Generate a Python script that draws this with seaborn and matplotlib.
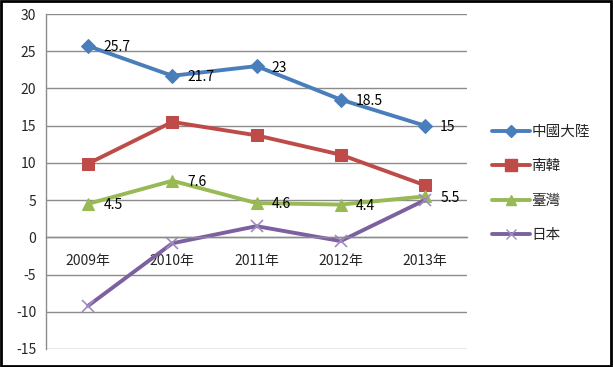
import matplotlib
matplotlib.use("Agg")
import matplotlib.pyplot as plt
import matplotlib.patches as mpatches
import seaborn as sns
import pandas as pd
from matplotlib.ticker import FixedLocator, NullFormatter, FixedFormatter

years = ["2009年", "2010年", "2011年", "2012年", "2013年"]
series_names = ["中國大陸", "南韓", "臺灣", "日本"]
china = [25.7, 21.7, 23, 18.5, 15]
korea = [9.9, 15.5, 13.7, 11.1, 7.0]
taiwan = [4.5, 7.6, 4.6, 4.4, 5.5]
japan = [-9.2, -0.8, 1.5, -0.5, 5.0]
labeled = ["中國大陸", "臺灣"]
yticks = [-15, -10, -5, 0, 5, 10, 15, 20, 25, 30]

colors = ["#4A7EBB", "#BE4B48", "#98B954", "#7D60A0"]
markers = ["D", "s", "^", "x"]
msizes = [7, 9, 8, 8]

sns.set_style("white")
plt.rcParams["font.family"] = ["Noto Sans CJK TC", "DejaVu Sans"]

rows = []
for name, vals in zip(series_names, [china, korea, taiwan, japan]):
    for i, v in enumerate(vals):
        rows.append({"year": i, "value": v, "series": name})
df = pd.DataFrame(rows)

fig = plt.figure(figsize=(6.13, 3.67), dpi=100)
ax = fig.add_axes([46 / 613, 1 - 349 / 367, (467 - 46) / 613, (349 - 14) / 367])

sns.lineplot(data=df, x="year", y="value", hue="series", hue_order=series_names,
             palette=colors, ax=ax, legend=False, linewidth=2.8, sort=False)
for line, m, ms, c in zip(ax.lines, markers, msizes, colors):
    line.set_marker(m)
    line.set_markersize(ms)
    line.set_markerfacecolor(c)
    line.set_markeredgecolor(c)
    if m == "x":
        line.set_markeredgewidth(1.2)
        line.set_markeredgecolor("#A08CC0")

ax.set_xlim(-0.5, 4.5)
ax.set_ylim(-15, 30)
ax.set_yticks(yticks)
ax.set_yticklabels([str(t) for t in yticks], fontsize=10)
ax.yaxis.grid(True, color="#8C8C8C", linewidth=1)
ax.set_axisbelow(True)

ax.xaxis.set_major_locator(FixedLocator([-0.5, 0.5, 1.5, 2.5, 3.5, 4.5]))
ax.xaxis.set_major_formatter(NullFormatter())
ax.xaxis.set_minor_locator(FixedLocator(list(range(len(years)))))
ax.xaxis.set_minor_formatter(FixedFormatter(years))
ax.tick_params(axis="x", which="major", length=4, width=1, color="#8C8C8C", direction="out")
ax.tick_params(axis="x", which="minor", length=0, pad=12, labelsize=10)
ax.tick_params(axis="y", length=4, width=1, color="#8C8C8C", direction="out", pad=3)
ax.set_xlabel("")
ax.set_ylabel("")

for s in ["top", "right"]:
    ax.spines[s].set_visible(False)
ax.spines["bottom"].set_position(("data", 0))
ax.spines["bottom"].set_color("#8C8C8C")
ax.spines["left"].set_color("#8C8C8C")
ax.spines["bottom"].set_linewidth(1)
ax.spines["left"].set_linewidth(1)

for name, vals in zip(series_names, [china, korea, taiwan, japan]):
    if name in labeled:
        for i, v in enumerate(vals):
            ax.annotate(f"{v:g}", (i, v), xytext=(11, -1), textcoords="offset points",
                        va="center", ha="left", fontsize=10, color="black")

handles = []
for name, c, m, ms in zip(series_names, colors, markers, msizes):
    h = plt.Line2D([], [], color=c, lw=2.8, marker=m, markersize=ms * 0.9,
                   markerfacecolor=c, markeredgecolor=("#A08CC0" if m == "x" else c),
                   label=name)
    handles.append(h)
fig.legend(handles=handles, loc="upper left", bbox_to_anchor=(486 / 613, 1 - 119 / 367),
           frameon=False, fontsize=10.5, handlelength=2.6, handletextpad=0.1,
           labelspacing=1.4, borderaxespad=0)

fig.patches.append(mpatches.Rectangle((0.002, 0.003), 0.995, 0.993, transform=fig.transFigure,
                                      fill=False, edgecolor="black", linewidth=2))

fig.savefig("out.png", dpi=100)
